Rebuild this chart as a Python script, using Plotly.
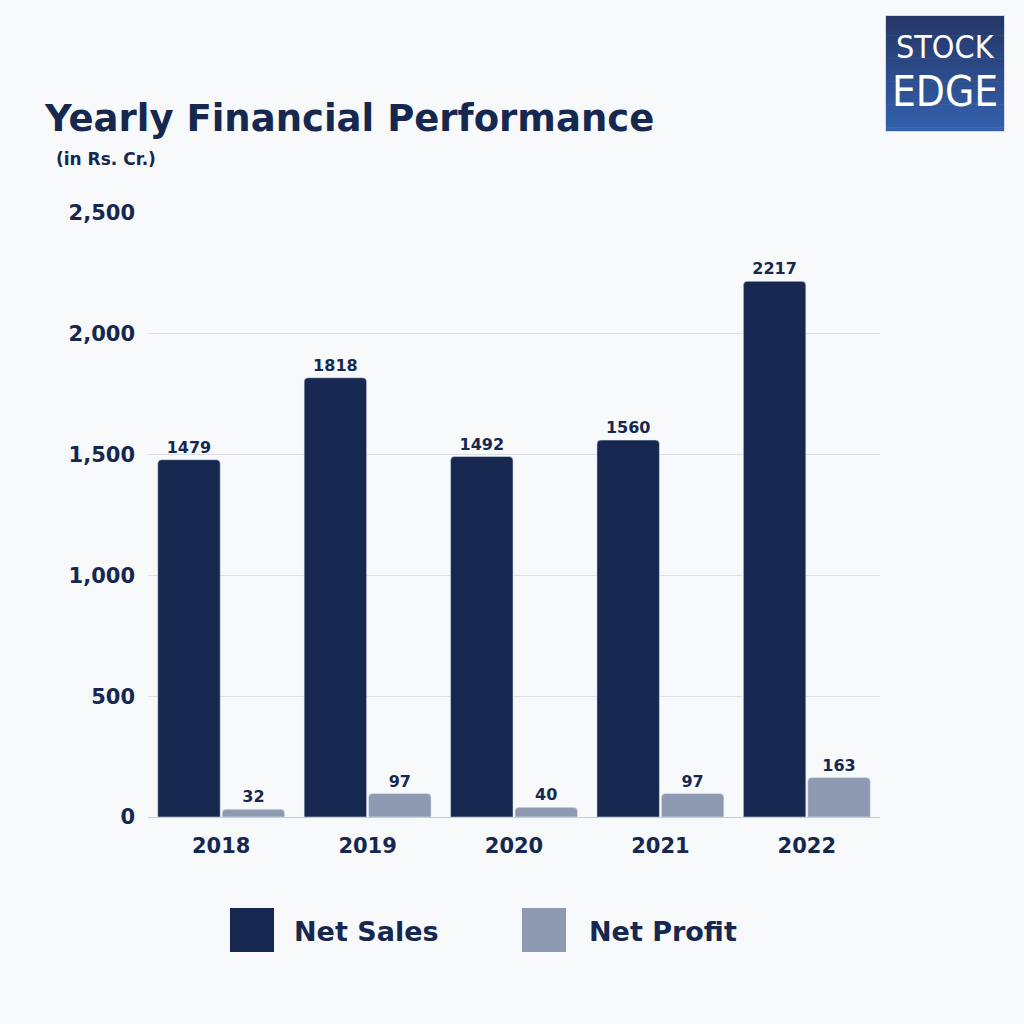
import plotly.graph_objects as go

years = ["2018", "2019", "2020", "2021", "2022"]
net_sales = [1479, 1818, 1492, 1560, 2217]
net_profit = [32, 97, 40, 97, 163]
y_ticks = [0, 500, 1000, 1500, 2000, 2500]
y_tick_labels = ["0", "500", "1,000", "1,500", "2,000", "2,500"]

NAVY = "#16284f"
GREY = "#8d9ab1"
BG = "#f8f9fa"
FONT = "DejaVu Sans"
LOGO_FONT = "Liberation Sans Narrow, DejaVu Sans Condensed, DejaVu Sans"

W, H = 1024, 1024
L, R, T, B = 148, 880, 213, 817

fig = go.Figure()
fig.add_trace(go.Bar(x=years, y=net_sales, name="Net Sales", marker_color=NAVY,
                     text=net_sales, textposition="outside", cliponaxis=False,
                     textfont=dict(family=FONT, size=16, color=NAVY, weight="bold")))
fig.add_trace(go.Bar(x=years, y=net_profit, name="Net Profit", marker_color=GREY,
                     text=net_profit, textposition="outside", cliponaxis=False,
                     textfont=dict(family=FONT, size=16, color=NAVY, weight="bold")))

# paper coordinates are relative to the plot area
def px(x):
    return (x - L) / (R - L)

def py(y):
    return (B - y) / (B - T)

shapes = []
# logo with a vertical gradient
shapes.append(dict(type="rect", xref="paper", yref="paper",
                   x0=px(885), x1=px(1005), y0=py(15), y1=py(132),
                   fillcolor="#d5dbe6", line=dict(width=0), layer="below"))
top_c = (0x25, 0x37, 0x68)
bot_c = (0x34, 0x61, 0xad)
n = 30
y0, y1 = 16, 131
for i in range(n):
    t = i / (n - 1)
    c = tuple(int(top_c[k] + (bot_c[k] - top_c[k]) * t) for k in range(3))
    ya = y0 + (y1 - y0) * i / n
    yb = min(y0 + (y1 - y0) * (i + 1) / n + 0.6, y1)
    shapes.append(dict(type="rect", xref="paper", yref="paper",
                       x0=px(886), x1=px(1004), y0=py(ya), y1=py(yb),
                       fillcolor="rgb(%d,%d,%d)" % c, line=dict(width=0), layer="below"))

# legend squares
shapes.append(dict(type="rect", xref="paper", yref="paper", x0=px(230), x1=px(274),
                   y0=py(952), y1=py(908), fillcolor=NAVY, line=dict(width=0)))
shapes.append(dict(type="rect", xref="paper", yref="paper", x0=px(522), x1=px(566),
                   y0=py(952), y1=py(908), fillcolor=GREY, line=dict(width=0)))

annotations = [
    dict(text="<b>Yearly Financial Performance</b>", x=px(42), y=py(119), xref="paper", yref="paper",
         xanchor="left", yanchor="middle", showarrow=False,
         font=dict(family=FONT, size=37, color=NAVY)),
    dict(text="<b>(in Rs. Cr.)</b>", x=px(54), y=py(159), xref="paper", yref="paper",
         xanchor="left", yanchor="middle", showarrow=False,
         font=dict(family=FONT, size=17, color=NAVY)),
    dict(text="<b>Net Sales</b>", x=px(292), y=py(931), xref="paper", yref="paper",
         xanchor="left", yanchor="middle", showarrow=False,
         font=dict(family=FONT, size=27, color=NAVY)),
    dict(text="<b>Net Profit</b>", x=px(587), y=py(931), xref="paper", yref="paper",
         xanchor="left", yanchor="middle", showarrow=False,
         font=dict(family=FONT, size=27, color=NAVY)),
    dict(text="STOCK", x=px(945), y=py(47), xref="paper", yref="paper",
         xanchor="center", yanchor="middle", showarrow=False,
         font=dict(family=LOGO_FONT, size=32, color="white")),
    dict(text="EDGE", x=px(945), y=py(92), xref="paper", yref="paper",
         xanchor="center", yanchor="middle", showarrow=False,
         font=dict(family=LOGO_FONT, size=42, color="white")),
]

fig.update_layout(
    width=W, height=H,
    margin=dict(l=L, r=W - R, t=T, b=H - B, pad=0),
    paper_bgcolor=BG, plot_bgcolor=BG,
    barmode="group", bargap=0.12, bargroupgap=0.03,
    barcornerradius=4,
    showlegend=False,
    shapes=shapes, annotations=annotations,
)
fig.update_yaxes(range=[0, 2500], tickvals=y_ticks, ticktext=y_tick_labels,
                 showgrid=True, gridcolor="#dcdfe3", gridwidth=1,
                 zeroline=True, zerolinecolor="#c8ccd2", zerolinewidth=1,
                 ticks="", ticklabelstandoff=12,
                 tickfont=dict(family=FONT, size=21, color=NAVY, weight="bold"),
                 fixedrange=True)
fig.update_xaxes(showgrid=False, showline=False, ticks="", ticklabelstandoff=14,
                 tickfont=dict(family=FONT, size=21, color=NAVY, weight="bold"))

fig.write_html("out.html")
